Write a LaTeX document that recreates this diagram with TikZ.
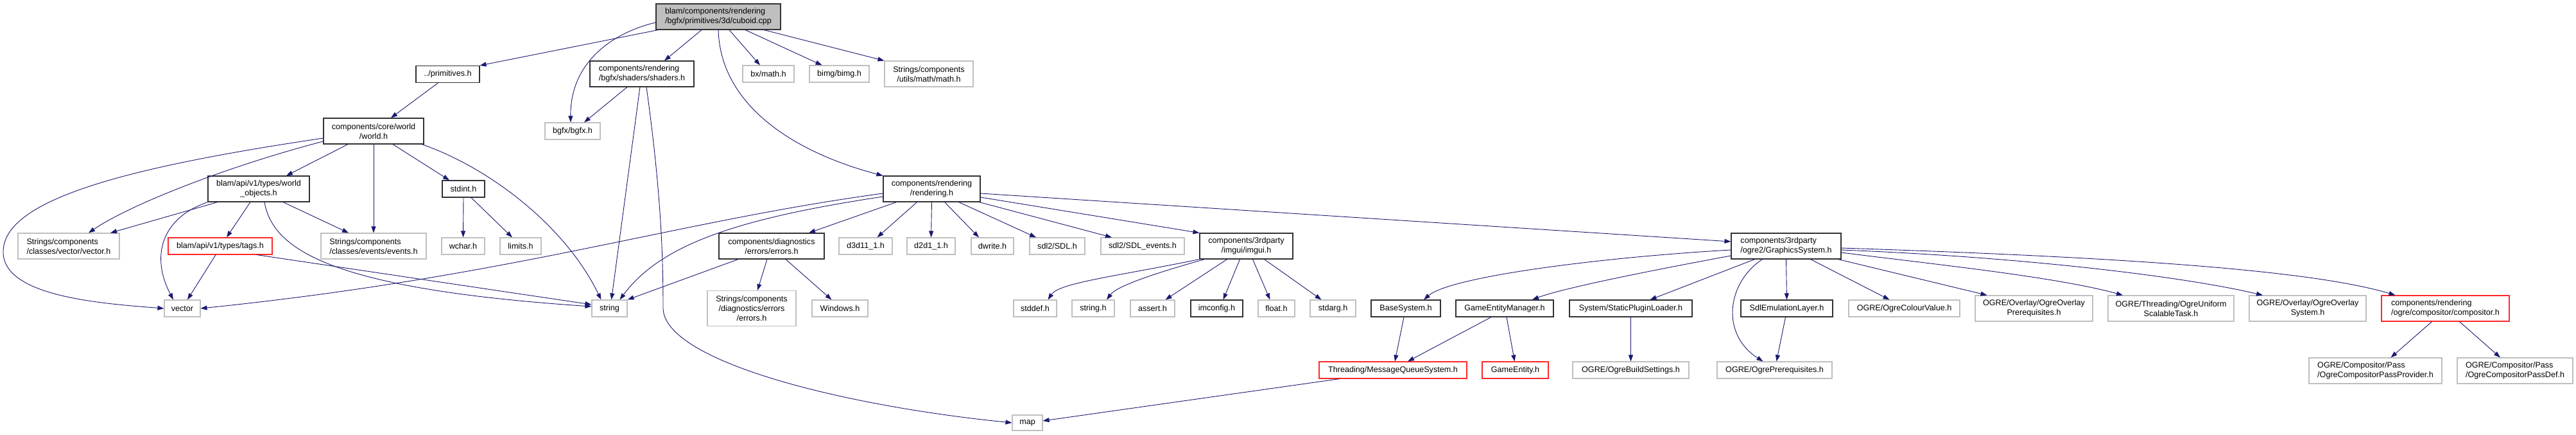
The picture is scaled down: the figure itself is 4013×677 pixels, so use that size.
\documentclass[tikz,border=0pt]{standalone}
\usepackage{fontspec}
\setmainfont{Liberation Sans}
\usetikzlibrary{arrows.meta}
\definecolor{edgeblue}{RGB}{25,25,112}
\definecolor{greyseventyfive}{RGB}{191,191,191}
\definecolor{docborder}{RGB}{50,50,50}
\definecolor{truncred}{RGB}{255,40,40}
\tikzset{
  box/.style={rectangle, inner sep=0pt, line width=1.1pt, fill=white,
    font=\fontsize{12.6}{15}\selectfont, align=center, minimum height=26pt},
  docnode/.style={box, draw=docborder},
  extnode/.style={box, draw=greyseventyfive},
  truncnode/.style={box, draw=truncred},
  rootnode/.style={box, draw=docborder, fill=greyseventyfive},
  twoline/.style={minimum height=40pt},
  dep/.style={draw=edgeblue, line width=0.9pt, -{Triangle[length=10pt,width=7pt]}},
}
\begin{document}
\begin{tikzpicture}[x=1pt,y=-1pt]
\useasboundingbox (0,0) rectangle (4013,677);
% rank 0
\node[rootnode,twoline,align=left,minimum width=194pt] (root) at (1119,26) {blam/components/rendering\\/bgfx/primitives/3d/cuboid.cpp};
% rank 1
\node[docnode,minimum width=99pt] (prim) at (697.5,115.5) {../primitives.h};
\node[docnode,twoline,align=left,minimum width=162pt] (shaders) at (1000,115) {components/rendering\\/bgfx/shaders/shaders.h};
\node[extnode,minimum width=80pt] (bx) at (1197,115) {bx/math.h};
\node[extnode,minimum width=93pt] (bimg) at (1307.5,115) {bimg/bimg.h};
\node[extnode,twoline,minimum width=138pt] (umath) at (1447,115) {Strings/components\\/utils/math/math.h};
% rank 2
\node[docnode,twoline,minimum width=156pt] (world) at (582,204) {components/core/world\\/world.h};
\node[extnode,minimum width=86pt] (bgfx) at (892,204) {bgfx/bgfx.h};
% rank 3
\node[docnode,twoline,minimum width=158pt] (wobj) at (403,294) {blam/api/v1/types/world\\\_objects.h};
\node[docnode,minimum width=66pt] (stdint) at (722,294) {stdint.h};
\node[docnode,twoline,minimum width=151pt] (rendering) at (1451.5,294) {components/rendering\\/rendering.h};
% rank 4
\node[extnode,twoline,align=left,minimum width=158pt] (vech) at (107,383) {Strings/components\\/classes/vector/vector.h};
\node[truncnode,minimum width=162pt] (tags) at (343,383) {blam/api/v1/types/tags.h};
\node[extnode,twoline,align=left,minimum width=164pt] (events) at (582,383) {Strings/components\\/classes/events/events.h};
\node[extnode,minimum width=67pt] (wchar) at (721.5,383) {wchar.h};
\node[extnode,minimum width=64pt] (limits) at (811,383) {limits.h};
\node[docnode,twoline,minimum width=164pt] (errors) at (1202,383) {components/diagnostics\\/errors/errors.h};
\node[extnode,minimum width=83pt] (d3d) at (1348.5,383) {d3d11\_1.h};
\node[extnode,minimum width=75pt] (d2d) at (1450.5,383) {d2d1\_1.h};
\node[extnode,minimum width=66pt] (dwrite) at (1546,383) {dwrite.h};
\node[extnode,minimum width=86pt] (sdl) at (1647,383) {sdl2/SDL.h};
\node[extnode,minimum width=130pt] (sdlev) at (1780,383) {sdl2/SDL\_events.h};
\node[docnode,twoline,minimum width=145pt] (imgui) at (1941.5,383) {components/3rdparty\\/imgui/imgui.h};
\node[docnode,twoline,align=left,minimum width=171pt] (gfx) at (2782.5,383) {components/3rdparty\\/ogre2/GraphicsSystem.h};
% rank 5
\node[extnode,minimum width=56pt] (vec) at (284,480) {vector};
\node[extnode,minimum width=55pt] (string) at (949.5,480) {string};
\node[extnode,minimum width=138pt,minimum height=55pt] (serr) at (1171,480) {Strings/components\\/diagnostics/errors\\/errors.h};
\node[extnode,minimum width=87pt] (win) at (1308.5,480) {Windows.h};
\node[extnode,minimum width=67pt] (stddef) at (1612.5,480) {stddef.h};
\node[extnode,minimum width=66pt] (stringh) at (1703,480) {string.h};
\node[extnode,minimum width=69pt] (assert) at (1795.5,480) {assert.h};
\node[docnode,minimum width=81pt] (imconfig) at (1895.5,480) {imconfig.h};
\node[extnode,minimum width=57pt] (float) at (1988.5,480) {float.h};
\node[extnode,minimum width=71pt] (stdarg) at (2076.5,480) {stdarg.h};
\node[docnode,minimum width=108pt] (base) at (2190,480) {BaseSystem.h};
\node[docnode,minimum width=152pt] (gem) at (2344,480) {GameEntityManager.h};
\node[docnode,minimum width=191pt] (spl) at (2540.5,480) {System/StaticPluginLoader.h};
\node[docnode,minimum width=143pt] (sdlemu) at (2783.5,480) {SdlEmulationLayer.h};
\node[extnode,minimum width=173pt] (ocv) at (2966.5,480) {OGRE/OgreColourValue.h};
\node[extnode,twoline,minimum width=183pt] (oop) at (3168.5,480) {OGRE/Overlay/OgreOverlay\\Prerequisites.h};
\node[extnode,twoline,minimum width=196pt] (ous) at (3382,480) {OGRE/Threading/OgreUniform\\ScalableTask.h};
\node[extnode,twoline,minimum width=182pt] (oos) at (3595,480) {OGRE/Overlay/OgreOverlay\\System.h};
\node[truncnode,twoline,align=left,minimum width=199pt] (comp) at (3809.5,480) {components/rendering\\/ogre/compositor/compositor.h};
% rank 6
\node[truncnode,minimum width=230pt] (mqs) at (2170,576) {Threading/MessageQueueSystem.h};
\node[truncnode,minimum width=103pt] (gentity) at (2360.5,576) {GameEntity.h};
\node[extnode,minimum width=181pt] (obs) at (2540.5,576) {OGRE/OgreBuildSettings.h};
\node[extnode,minimum width=179pt] (oprereq) at (2764.5,576) {OGRE/OgrePrerequisites.h};
\node[extnode,twoline,align=left,minimum width=207pt] (pp) at (3700.5,577) {OGRE/Compositor/Pass\\/OgreCompositorPassProvider.h};
\node[extnode,twoline,align=left,minimum width=180pt] (pd) at (3918,577) {OGRE/Compositor/Pass\\/OgreCompositorPassDef.h};
% rank 7
\node[extnode,minimum width=47pt,minimum height=24pt] (map) at (1600.5,658) {map};

% ---- edges from root
\draw[dep] ([xshift=4pt]root.south west) -- (prim.north east);
\draw[dep] ([yshift=-9pt]root.west) .. controls (950,52) and (888,100) .. ([xshift=-3pt]bgfx.north);
\draw[dep] ([xshift=-26pt]root.south) -- ([xshift=35pt]shaders.north);
\draw[dep] ([xshift=17pt]root.south) -- ([xshift=-13pt]bx.north);
\draw[dep] ([xshift=42pt]root.south) -- ([xshift=-27pt]bimg.north);
\draw[dep] ([xshift=71pt]root.south) -- (umath.north west);
\draw[dep] (root.south) .. controls (1122,160) and (1230,235) .. (rendering.north west);
% primitives
\draw[dep] ([xshift=-15pt]prim.south) -- ([xshift=27pt]world.north);
% world
\draw[dep] ([yshift=-11pt]world.west) .. controls (200,260) and (5,310) .. (5,392) .. controls (5,460) and (150,472) .. (vec.west);
\draw[dep] ([yshift=-16pt]world.west) .. controls (350,260) and (200,320) .. ([xshift=31pt]vech.north);
\draw[dep] ([xshift=-40pt]world.south) -- ([xshift=43pt]wobj.north);
\draw[dep] (world.south) -- (events.north);
\draw[dep] ([xshift=30pt]world.south) -- ([xshift=-22pt]stdint.north);
\draw[dep] ([xshift=75pt]world.south) .. controls (760,260) and (880,350) .. ([xshift=-13pt]string.north);
% world objects
\draw[dep] ([xshift=-64pt]wobj.south) -- ([xshift=65pt]vech.north);
\draw[dep] (wobj.south west) .. controls (250,340) and (235,400) .. ([xshift=-14pt]vec.north);
\draw[dep] ([xshift=-13pt]wobj.south) -- ([xshift=10pt]tags.north);
\draw[dep] ([xshift=9pt]wobj.south) .. controls (425,390) and (520,450) .. ([yshift=3pt]string.west);
\draw[dep] ([xshift=38pt]wobj.south) -- ([xshift=-39pt]events.north);
% tags
\draw[dep] ([xshift=-7pt]tags.south) -- ([xshift=8pt]vec.north);
\draw[dep] ([xshift=57pt]tags.south) -- ([yshift=6pt]string.west);
% stdint
\draw[dep] (stdint.south) -- (wchar.north);
\draw[dep] ([xshift=12pt]stdint.south) -- ([xshift=-13pt]limits.north);
% shaders
\draw[dep] ([xshift=-23pt]shaders.south) -- ([xshift=18pt]bgfx.north);
\draw[dep] ([xshift=-3pt]shaders.south) -- ([xshift=3pt]string.north);
\draw[dep] ([xshift=7pt]shaders.south) .. controls (1030,300) and (1033,400) .. (1033,480) .. controls (1035,560) and (1300,630) .. (map.west);
% rendering
\draw[dep] ([yshift=-7pt]rendering.west) .. controls (1050,345) and (800,430) .. (vec.east);
\draw[dep] ([yshift=-12pt]rendering.west) .. controls (1150,340) and (1030,380) .. ([xshift=16pt]string.north);
\draw[dep] ([xshift=-55pt]rendering.south) -- ([xshift=58pt]errors.north);
\draw[dep] ([xshift=-23pt]rendering.south) -- ([xshift=18pt]d3d.north);
\draw[dep] (rendering.south) -- (d2d.north);
\draw[dep] ([xshift=20pt]rendering.south) -- ([xshift=-21pt]dwrite.north);
\draw[dep] ([xshift=42pt]rendering.south) -- ([xshift=-33pt]sdl.north);
\draw[dep] ([xshift=74pt]rendering.south) -- ([xshift=-48pt]sdlev.north);
\draw[dep] ([yshift=-13pt]rendering.east) -- (imgui.north west);
\draw[dep] ([yshift=-7pt]rendering.east) -- ([yshift=7pt]gfx.west);
% errors
\draw[dep] ([xshift=-52pt]errors.south) -- (string.north east);
\draw[dep] ([xshift=-7pt]errors.south) -- ([xshift=9pt]serr.north);
\draw[dep] ([xshift=22pt]errors.south) -- ([xshift=-13pt]win.north);
% imgui
\draw[dep] (imgui.south west) .. controls (1740,430) and (1650,440) .. ([xshift=20pt]stddef.north);
\draw[dep] ([xshift=-65pt]imgui.south) .. controls (1800,425) and (1740,445) .. ([xshift=21pt]stringh.north);
\draw[dep] ([xshift=-30pt]imgui.south) -- ([xshift=20pt]assert.north);
\draw[dep] ([xshift=-10pt]imgui.south) -- ([xshift=10pt]imconfig.north);
\draw[dep] ([xshift=10pt]imgui.south) -- ([xshift=-10pt]float.north);
\draw[dep] ([xshift=28pt]imgui.south) -- ([xshift=-18pt]stdarg.north);
% graphics system
\draw[dep] ([yshift=-6pt]gfx.west) .. controls (2500,400) and (2260,430) .. ([xshift=28pt]base.north);
\draw[dep] ([yshift=-15pt]gfx.west) .. controls (2550,425) and (2430,450) .. ([xshift=43pt]gem.north);
\draw[dep] ([xshift=-49pt]gfx.south) -- ([xshift=30pt]spl.north);
\draw[dep] ([xshift=-37pt]gfx.south) .. controls (2690,440) and (2680,520) .. ([xshift=-18pt]oprereq.north);
\draw[dep] (gfx.south) -- (sdlemu.north);
\draw[dep] ([xshift=38pt]gfx.south) -- ([xshift=-23pt]ocv.north);
\draw[dep] ([xshift=81pt]gfx.south) -- ([xshift=-73pt]oop.north);
\draw[dep] ([yshift=-10pt]gfx.east) .. controls (3000,410) and (3200,430) .. ([xshift=-75pt]ous.north);
\draw[dep] ([yshift=-6pt]gfx.east) .. controls (3150,400) and (3400,430) .. ([xshift=-70pt]oos.north);
\draw[dep] ([yshift=-3pt]gfx.east) .. controls (3300,400) and (3600,420) .. ([xshift=-78pt]comp.north);
% lower
\draw[dep] ([xshift=-3pt]base.south) -- ([xshift=3pt]mqs.north);
\draw[dep] ([xshift=-21pt]gem.south) -- ([xshift=23pt]mqs.north);
\draw[dep] ([xshift=3pt]gem.south) -- ([xshift=-1pt]gentity.north);
\draw[dep] (spl.south) -- (obs.north);
\draw[dep] ([xshift=-2pt]sdlemu.south) -- ([xshift=3pt]oprereq.north);
\draw[dep] ([xshift=-21pt]comp.south) -- ([xshift=24pt]pp.north);
\draw[dep] ([xshift=22pt]comp.south) -- ([xshift=-23pt]pd.north);
\draw[dep] ([xshift=-83pt]mqs.south) -- ([yshift=3pt]map.east);
\end{tikzpicture}
\end{document}
